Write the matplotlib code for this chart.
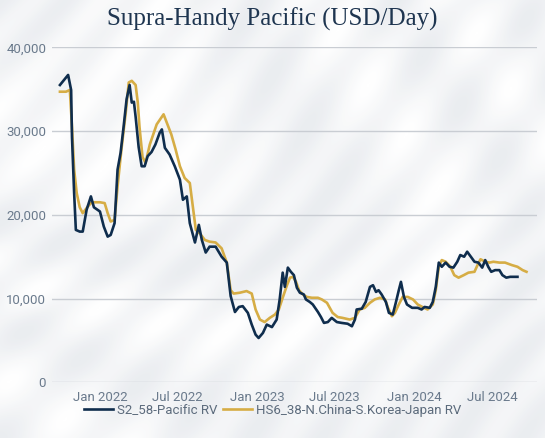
import numpy as np
import pandas as pd
import matplotlib
matplotlib.use("Agg")
import matplotlib.pyplot as plt
from matplotlib.ticker import FuncFormatter

# S2_58-Pacific RV (USD/day, thousands)
pac_dates = ["2021-09-30", "2021-10-19", "2021-10-26", "2021-10-28", "2021-11-02", "2021-11-06",
             "2021-11-15", "2021-11-22", "2021-12-01", "2021-12-11", "2021-12-18", "2022-01-01",
             "2022-01-10", "2022-01-19", "2022-01-26", "2022-02-04", "2022-02-11", "2022-02-18",
             "2022-02-25", "2022-03-04", "2022-03-11", "2022-03-16", "2022-03-21", "2022-03-25",
             "2022-04-01", "2022-04-08", "2022-04-15", "2022-04-22", "2022-05-01", "2022-05-10",
             "2022-05-20", "2022-05-25", "2022-06-01", "2022-06-12", "2022-06-24", "2022-07-06",
             "2022-07-13", "2022-07-22", "2022-07-29", "2022-08-10", "2022-08-19", "2022-08-26",
             "2022-09-04", "2022-09-13", "2022-09-27", "2022-10-11", "2022-10-23", "2022-11-01",
             "2022-11-11", "2022-11-20", "2022-11-29", "2022-12-11", "2022-12-20", "2022-12-29",
             "2023-01-05", "2023-01-15", "2023-01-24", "2023-02-05", "2023-02-16", "2023-02-23",
             "2023-03-02", "2023-03-07", "2023-03-14", "2023-03-21", "2023-03-28", "2023-04-04",
             "2023-04-11", "2023-04-20", "2023-04-25", "2023-05-04", "2023-05-11", "2023-05-23",
             "2023-05-30", "2023-06-06", "2023-06-15", "2023-06-24", "2023-07-06", "2023-07-17",
             "2023-07-31", "2023-08-10", "2023-08-17", "2023-08-21", "2023-09-02", "2023-09-11",
             "2023-09-21", "2023-09-28", "2023-10-05", "2023-10-11", "2023-10-18", "2023-10-28",
             "2023-11-04", "2023-11-13", "2023-11-20", "2023-11-27", "2023-12-02", "2023-12-09",
             "2023-12-16", "2023-12-28", "2024-01-10", "2024-01-19", "2024-01-26", "2024-02-07",
             "2024-02-14", "2024-02-21", "2024-02-28", "2024-03-06", "2024-03-15", "2024-03-24",
             "2024-04-02", "2024-04-11", "2024-04-18", "2024-04-27", "2024-05-04", "2024-05-14",
             "2024-05-21", "2024-05-30", "2024-06-08", "2024-06-15", "2024-06-22", "2024-06-29",
             "2024-07-08", "2024-07-18", "2024-07-25", "2024-08-03", "2024-08-12", "2024-08-29"]
pac_vals = [35.5, 36.7, 34.9, 29.3, 22.6, 18.2,
            18.0, 18.0, 20.6, 22.2, 20.9, 20.4,
            18.6, 17.4, 17.6, 19.0, 25.4, 27.4,
            30.5, 33.8, 35.5, 33.4, 33.5, 31.7,
            28.1, 25.8, 25.8, 27.0, 27.5, 28.4,
            29.8, 30.2, 28.0, 27.2, 25.8, 24.2,
            21.8, 22.2, 19.0, 16.7, 18.8, 17.0,
            15.5, 16.2, 16.2, 15.0, 14.3, 10.3,
            8.4, 9.0, 9.1, 8.3, 6.9, 5.7,
            5.3, 5.9, 6.9, 6.6, 7.5, 9.9,
            13.1, 11.4, 13.7, 13.2, 12.8, 11.3,
            10.7, 10.5, 9.9, 9.6, 9.3, 8.4,
            7.8, 7.1, 7.2, 7.7, 7.2, 7.1,
            7.0, 6.7, 7.5, 8.7, 8.8, 9.6,
            11.4, 11.6, 10.8, 11.0, 10.5, 9.6,
            8.3, 8.1, 9.5, 11.0, 12.0, 10.2,
            9.3, 8.9, 8.9, 8.7, 9.0, 8.9,
            9.6, 11.4, 14.3, 13.8, 14.3, 13.8,
            13.7, 14.4, 15.2, 15.0, 15.6, 14.9,
            14.4, 14.3, 13.7, 14.6, 13.8, 13.2,
            13.4, 13.4, 12.8, 12.5, 12.6, 12.6]

# HS6_38-N.China-S.Korea-Japan RV (USD/day, thousands)
hs_dates = ["2021-09-30", "2021-10-14", "2021-10-23", "2021-10-28", "2021-11-02", "2021-11-08",
            "2021-11-15", "2021-11-22", "2021-12-04", "2021-12-13", "2022-01-01", "2022-01-12",
            "2022-01-19", "2022-01-26", "2022-02-04", "2022-02-11", "2022-02-20", "2022-03-02",
            "2022-03-09", "2022-03-16", "2022-03-25", "2022-03-30", "2022-04-03", "2022-04-10",
            "2022-04-17", "2022-04-27", "2022-05-13", "2022-05-29", "2022-06-07", "2022-06-16",
            "2022-06-26", "2022-07-06", "2022-07-17", "2022-07-29", "2022-08-05", "2022-08-12",
            "2022-08-21", "2022-09-02", "2022-09-13", "2022-09-27", "2022-10-11", "2022-10-23",
            "2022-11-01", "2022-11-08", "2022-11-22", "2022-12-08", "2022-12-20", "2022-12-29",
            "2023-01-08", "2023-01-19", "2023-01-31", "2023-02-12", "2023-02-21", "2023-03-02",
            "2023-03-12", "2023-03-19", "2023-03-26", "2023-04-02", "2023-04-09", "2023-04-18",
            "2023-04-27", "2023-05-09", "2023-05-23", "2023-06-01", "2023-06-13", "2023-06-26",
            "2023-07-08", "2023-07-19", "2023-08-05", "2023-08-17", "2023-08-28", "2023-09-09",
            "2023-09-21", "2023-10-02", "2023-10-14", "2023-10-26", "2023-11-02", "2023-11-11",
            "2023-11-18", "2023-11-27", "2023-12-06", "2023-12-18", "2023-12-30", "2024-01-10",
            "2024-01-21", "2024-02-02", "2024-02-14", "2024-02-21", "2024-02-28", "2024-03-06",
            "2024-03-15", "2024-03-26", "2024-04-04", "2024-04-14", "2024-04-26", "2024-05-07",
            "2024-05-21", "2024-05-28", "2024-06-04", "2024-06-15", "2024-06-25", "2024-07-04",
            "2024-07-18", "2024-07-31", "2024-08-16", "2024-08-29", "2024-09-10", "2024-09-19"]
hs_vals = [34.7, 34.7, 34.9, 30.5, 25.4, 22.6,
           20.9, 20.2, 21.0, 21.5, 21.5, 21.4,
           20.2, 19.2, 19.4, 23.4, 27.8, 32.2,
           35.8, 36.0, 35.5, 33.4, 30.5, 26.9,
           26.2, 28.4, 30.8, 32.0, 30.8, 29.6,
           27.8, 25.8, 24.4, 23.8, 21.0, 18.2,
           17.8, 17.0, 16.8, 16.7, 16.0, 14.3,
           11.0, 10.6, 10.7, 10.9, 10.6, 8.7,
           7.5, 7.2, 7.7, 8.1, 8.7, 10.1,
           11.6, 12.5, 12.6, 12.0, 11.0, 10.5,
           10.2, 10.1, 10.1, 9.9, 9.5, 8.3,
           7.8, 7.7, 7.5, 7.7, 8.7, 8.9,
           9.5, 9.9, 10.1, 9.9, 8.9, 7.9,
           8.3, 9.3, 10.2, 10.2, 9.9, 9.3,
           9.0, 8.7, 9.3, 11.0, 13.8, 14.6,
           14.4, 13.8, 12.8, 12.5, 12.8, 13.1,
           13.2, 14.0, 14.7, 14.4, 14.3, 14.4,
           14.3, 14.3, 14.0, 13.8, 13.4, 13.2]

series_names = ["S2_58-Pacific RV", "HS6_38-N.China-S.Korea-Japan RV"]
tick_dates = ["2022-01-01", "2022-07-01", "2023-01-01", "2023-07-01", "2024-01-01", "2024-07-01"]
tick_labels = ["Jan 2022", "Jul 2022", "Jan 2023", "Jul 2023", "Jan 2024", "Jul 2024"]
y_ticks = [0, 10000, 20000, 30000, 40000]

navy = "#0f2d4d"
gold = "#d6ad45"
txt = "#6a7a8c"

fig = plt.figure(figsize=(5.45, 4.38), dpi=100)

# faint swirl background
bg = fig.add_axes([0, 0, 1, 1], zorder=-5)
gx, gy = np.meshgrid(np.linspace(0, 5.45, 400), np.linspace(0, 4.38, 320))
r1 = np.hypot(gx + 1.0, gy - 5.5)
r2 = np.hypot(gx - 6.5, gy + 1.0)
pat = 0.5 + 0.5 * np.sin(r1 * 7.0 + 0.8 * np.sin(gy * 2.0)) * np.sin(r2 * 5.0)
bg.imshow(pat, cmap=matplotlib.colors.LinearSegmentedColormap.from_list("bgc", ["#ffffff", "#e7eaee"]),
          extent=[0, 1, 0, 1], origin="lower", aspect="auto", alpha=0.85)
bg.set_axis_off()

ax = fig.add_axes([0.095, 0.127, 0.89, 0.765])
ax.set_facecolor("none")

pd_pac = pd.to_datetime(pac_dates)
pd_hs = pd.to_datetime(hs_dates)
l1, = ax.plot(pd_pac, np.array(pac_vals) * 1000, color=navy, lw=1.9, zorder=3)
l2, = ax.plot(pd_hs, np.array(hs_vals) * 1000, color=gold, lw=1.9, zorder=2)

ax.set_xlim(pd.Timestamp("2021-09-11"), pd.Timestamp("2024-10-13"))
ax.set_ylim(0, 40000)
ax.set_yticks(y_ticks)
ax.yaxis.set_major_formatter(FuncFormatter(lambda v, p: f"{int(v):,}"))
ax.set_xticks(pd.to_datetime(tick_dates))
ax.set_xticklabels(tick_labels)
ax.grid(axis="y", color="#c9cdd3", lw=1.0)
ax.set_axisbelow(True)
for s in ax.spines.values():
    s.set_visible(False)
ax.tick_params(length=0, labelsize=9.5, colors=txt, pad=6)
ax.tick_params(axis="y", pad=4)
for lab in ax.get_xticklabels() + ax.get_yticklabels():
    lab.set_fontfamily("Roboto")

fig.text(0.5, 0.955, "Supra-Handy Pacific (USD/Day)", ha="center", va="center",
         fontsize=18, color="#1e3550", family="Liberation Serif")

fig.legend([l1, l2], series_names, loc="center", bbox_to_anchor=(0.5, 0.063), ncol=2,
           frameon=False, handlelength=2.2, handletextpad=0.3, columnspacing=0.4,
           labelcolor="#5c6b7c", prop={"family": "Roboto", "size": 9.5})

fig.savefig("out.png", dpi=100)
